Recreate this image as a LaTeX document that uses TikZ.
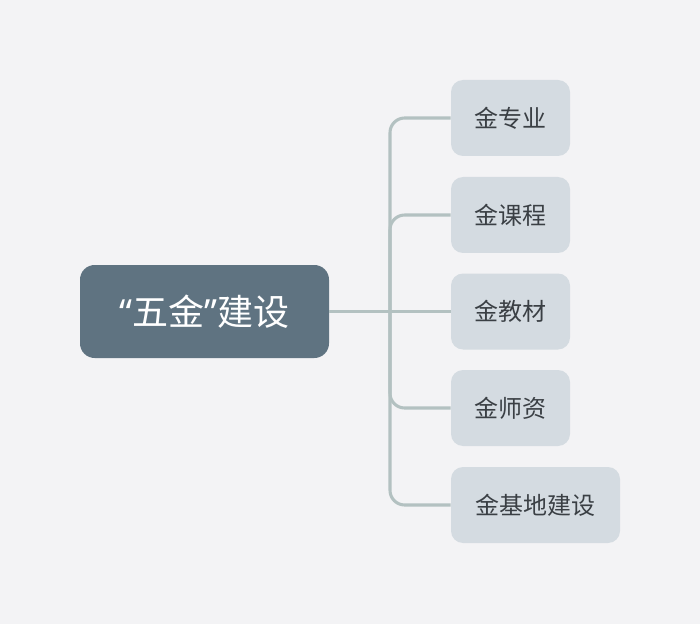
\documentclass[tikz,border=0pt]{standalone}
\usepackage{fontspec}
\newfontfamily\cjk{Noto Sans CJK SC}
\newfontfamily\latinq{Noto Sans}
\definecolor{bgc}{HTML}{F3F3F5}
\definecolor{rootc}{HTML}{5F7381}
\definecolor{childc}{HTML}{D4DBE1}
\definecolor{linec}{HTML}{B3C1C1}
\definecolor{txtc}{HTML}{3A3F44}
\begin{document}
\begin{tikzpicture}[x=0.75pt,y=-0.75pt,
  rootbox/.style={fill=rootc, rounded corners=11pt, minimum width=186.75pt, minimum height=69.75pt, inner sep=0pt, text=white, font=\cjk\fontsize{27}{32}\selectfont},
  childbox/.style={fill=childc, rounded corners=9pt, minimum height=57pt, inner sep=0pt, text=txtc, font=\cjk\fontsize{18}{22}\selectfont},
  conn/.style={draw=linec, line width=2.3pt, rounded corners=11pt}]
\fill[bgc] (0,0) rectangle (700,624);
\useasboundingbox (0,0) rectangle (700,624);
\node[rootbox] (root) at (204.5,311.5) {{\latinq “}五金{\latinq ”}建设};
\node[childbox, minimum width=89.25pt] (c1) at (510.5,118) {金专业};
\node[childbox, minimum width=89.25pt] (c2) at (510.5,215) {金课程};
\node[childbox, minimum width=89.25pt] (c3) at (510.5,311.5) {金教材};
\node[childbox, minimum width=89.25pt] (c4) at (510.5,408) {金师资};
\node[childbox, minimum width=126.75pt] (c5) at (535.5,505) {金基地建设};
\coordinate (j) at (390,311.5);
\draw[conn] (root.east) -- (c3.west);
\draw[conn] (j) |- (c1.west);
\draw[conn] (j) |- (c2.west);
\draw[conn] (j) |- (c4.west);
\draw[conn] (j) |- (c5.west);
\end{tikzpicture}
\end{document}
